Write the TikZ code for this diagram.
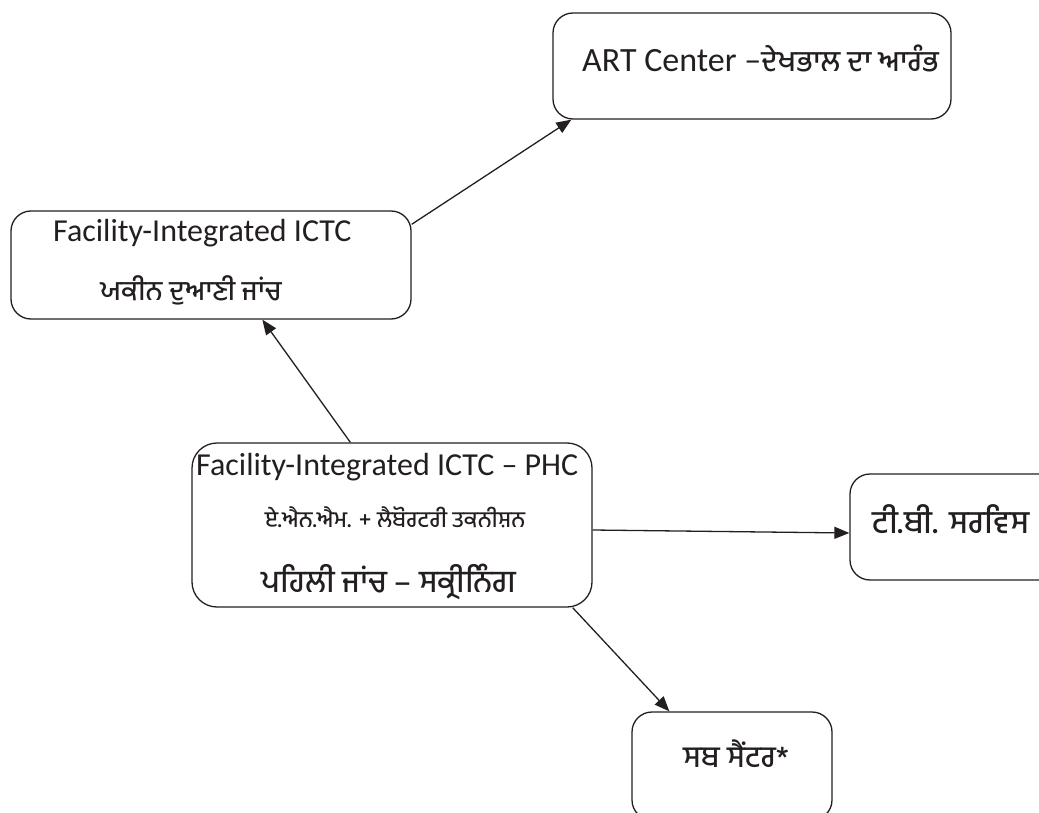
\documentclass[tikz,border=0pt]{standalone}
\usepackage{fontspec}
\setmainfont{Carlito}
\newfontfamily\pa[Script=Gurmukhi]{Hind Jalandhar Medium}
\usetikzlibrary{arrows.meta}
\definecolor{ink}{HTML}{231F20}
\tikzset{
  box/.style={draw=ink, line width=1.3pt, rounded corners=20pt, inner sep=0pt},
  lbl/.style={inner sep=0pt, text=ink},
  arr/.style={draw=ink, line width=1.3pt, -{Triangle[length=15pt,width=12pt]}}
}
\begin{document}
\begin{tikzpicture}[x=1pt,y=-1pt]
\useasboundingbox (0,0) rectangle (1039,813);
\clip (0,0) rectangle (1039,813);
% boxes
\node[box, minimum width=398pt, minimum height=106pt] (art) at (752,66) {};
\node[box, minimum width=400pt, minimum height=108pt] (ictc) at (211,265) {};
\node[box, minimum width=400pt, minimum height=164pt, rounded corners=25pt] (phc) at (392,525) {};
\node[box, minimum width=210pt, minimum height=106pt] (tb) at (955,527) {};
\node[box, minimum width=200pt, minimum height=108pt] (sub) at (732,766) {};
% labels
\node[lbl, anchor=base west, font=\fontsize{34}{40}\selectfont] (artT) at (582,72) {ART Center –{\pa\fontsize{29}{34}\selectfont ਦੇਖਭਾਲ ਦਾ ਆਰੰਭ}};
\node[lbl, anchor=base west, font=\fontsize{32}{38}\selectfont] (ictcA) at (53,242) {Facility-Integrated ICTC};
\node[lbl, anchor=base, font=\pa\fontsize{27.5}{33}\selectfont] (ictcB) at (191,300) {ਯਕੀਨ ਦੁਆਣੀ ਜਾਂਚ};
\node[lbl, anchor=base west, font=\fontsize{32}{38}\selectfont] (phcA) at (196,475) {Facility-Integrated ICTC – PHC};
\node[lbl, anchor=base, font=\pa\fontsize{22.5}{27}\selectfont] (phcB) at (395,527) {ਏ.ਐਨ.ਐਮ. + ਲੈਬੋਰਟਰੀ ਤਕਨੀਸ਼ਨ};
\node[lbl, anchor=base, font=\pa\fontsize{31}{37}\selectfont] (phcC) at (389,592) {ਪਹਿਲੀ ਜਾਂਚ – ਸਕ੍ਰੀਨਿੰਗ};
\node[lbl, anchor=base, font=\pa\fontsize{32}{38}\selectfont] (tbT) at (951,533) {ਟੀ.ਬੀ. ਸਰਵਿਸ};
\node[lbl, anchor=base, font=\pa\fontsize{30}{36}\selectfont] (subT) at (736,767) {ਸਬ ਸੈਂਟਰ*};
% connectors
\draw[arr] ([yshift=-14pt]ictc.north east) -- ([xshift=19pt]art.south west);
\draw[arr] ([xshift=159pt]phc.north west) -- ([xshift=252pt]ictc.south west);
\draw[arr] ([yshift=-5pt]phc.east) -- ([yshift=-6pt]tb.west);
\draw[arr] ([xshift=-20pt]phc.south east) -- ([xshift=38pt]sub.north west);
\end{tikzpicture}
\end{document}
